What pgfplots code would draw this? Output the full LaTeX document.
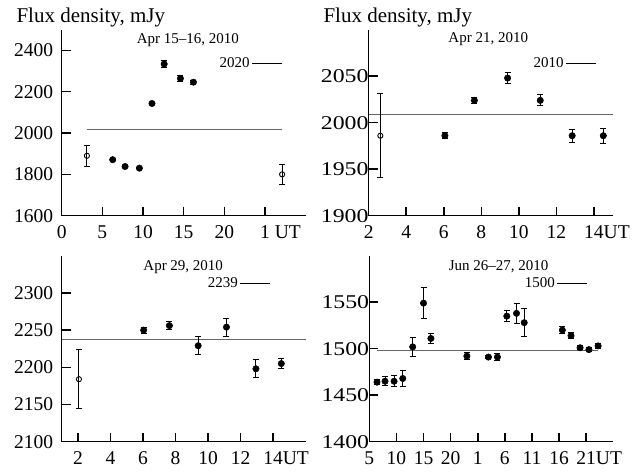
\documentclass[border=0pt]{standalone}
\usepackage{fontspec}
\setmainfont{Liberation Serif}
\usepackage{graphicx}
\usepackage{pgfplots}
\pgfplotsset{compat=1.18}

\pgfplotsset{
  panel/.style={
    scale only axis, width=244pt, height=186pt,
    axis lines=left, axis line style={-, line width=1.5pt, black},
    tick align=inside, major tick length=9pt,
    every tick/.style={black, line width=1.5pt},
    tick label style={font=\fontsize{19.5}{20}\selectfont},
    /pgf/number format/assume math mode=true,
    /pgf/number format/1000 sep={},
    xticklabel style={inner ysep=0pt, yshift=-10pt},
    clip=false,
    legend plot pos=right,
    legend style={draw=none, fill=none, font=\fontsize{15}{16}\selectfont,
      inner sep=0pt, anchor=east},
  },
  leftpanel/.style={yticklabel style={inner xsep=0pt, xshift=-8.5pt}},
  rightpanel/.style={yticklabel style={inner xsep=0pt, xshift=0pt},
    yticklabel={\scalebox{1.22}[1]{\pgfmathprintnumber{\tick}}}},
  filled/.style={only marks, mark=*, mark size=3.2pt, black, forget plot,
    mark options={fill=black, line width=0.5pt},
    error bars/.cd, y dir=both, y explicit,
    error bar style={line width=1pt, black},
    error mark=-,
    error mark options={rotate=90, mark size=3pt, line width=1pt, black}},
  open/.style={only marks, mark=o, mark size=2.6pt, black, forget plot,
    mark options={fill=white, line width=0.9pt},
    error bars/.cd, y dir=both, y explicit,
    error bar style={line width=1pt, black},
    error mark=-,
    error mark options={rotate=90, mark size=3pt, line width=1pt, black}},
  avg/.style={black!60, line width=1.4pt, no marks,
    legend image code/.code={\draw[black, line width=0.8pt] (0pt,0pt) -- (30pt,0pt);}},
}

\begin{document}
\begin{tikzpicture}
\useasboundingbox (0,0) rectangle (634pt,472pt);

% Panel 1: Apr 15-16
\begin{axis}[panel, leftpanel, at={(61.7pt,256.3pt)}, anchor=south west,
  xmin=0, xmax=30, ymin=1600, ymax=2500,
  xtick={0,5,10,15,20,25}, xticklabels={0,5,10,15,20,1\rlap{\ UT}},
  ytick={1600,1800,2000,2200,2400},
  legend style={at={(rel axis cs:0.905,0.82)}}]
\addplot[avg] coordinates {(3.1,2017) (27.1,2017)};
\addlegendentry{2020}
\addplot[open] table[x=x, y=y, y error=e] {
x y e
3.1 1890 50
27.1 1800 50
};
\addplot[filled] table[x=x, y=y, y error=e] {
x y e
6.27 1871 3
7.79 1838 3
9.55 1830 3
11.1 2143 3
12.6 2334 15
14.6 2264 13
16.2 2246 9
};
\node[font=\fontsize{15}{16}\selectfont] at (rel axis cs:0.517,0.946) {Apr 15--16, 2010};
\node[anchor=base west, font=\fontsize{21}{22}\selectfont, xshift=-48.7pt, yshift=6.7pt]
  at (rel axis cs:0,1) {Flux density, mJy};
\end{axis}

% Panel 2: Apr 21
\begin{axis}[panel, rightpanel, at={(368.7pt,256.3pt)}, anchor=south west,
  xmin=2, xmax=15, ymin=1900, ymax=2100,
  xtick={2,4,6,8,10,12,14}, xticklabels={2,4,6,8,10,12,14\rlap{UT}},
  ytick={1900,1950,2000,2050},
  legend style={at={(rel axis cs:0.934,0.82)}}]
\addplot[avg] coordinates {(2,2009) (15,2009)};
\addlegendentry{2010}
\addplot[open] table[x=x, y=y, y error=e] {
x y e
2.62 1986 45
};
\addplot[filled] table[x=x, y=y, y error=e] {
x y e
6.06 1986 3
7.63 2024 3
9.4 2048 6
11.14 2024 6
12.84 1986 7
14.5 1986 8
};
\node[font=\fontsize{15}{16}\selectfont] at (rel axis cs:0.49,0.95) {Apr 21, 2010};
\node[anchor=base west, font=\fontsize{21}{22}\selectfont, xshift=-48.7pt, yshift=6.7pt]
  at (rel axis cs:0,1) {Flux density, mJy};
\end{axis}

% Panel 3: Apr 29
\begin{axis}[panel, leftpanel, at={(61.7pt,30.3pt)}, anchor=south west,
  xmin=1, xmax=16, ymin=2100, ymax=2350,
  xtick={2,4,6,8,10,12,14}, xticklabels={2,4,6,8,10,12,14\rlap{UT}},
  ytick={2100,2150,2200,2250,2300},
  legend style={at={(rel axis cs:0.857,0.85)}}]
\addplot[avg] coordinates {(1,2237) (16,2237)};
\addlegendentry{2239}
\addplot[open] table[x=x, y=y, y error=e] {
x y e
2.06 2184 40
};
\addplot[filled] table[x=x, y=y, y error=e] {
x y e
6.04 2250 4
7.62 2256 5
9.39 2229 12
11.13 2254 12
12.94 2198 12
14.5 2205 7
};
\node[font=\fontsize{15}{16}\selectfont] at (rel axis cs:0.498,0.94) {Apr 29, 2010};
\end{axis}

% Panel 4: Jun 26-27
\begin{axis}[panel, rightpanel, at={(369.3pt,30.3pt)}, anchor=south west,
  xmin=5, xmax=50, ymin=1400, ymax=1600,
  xtick={5,10,15,20,25,30,35,40,45}, xticklabels={5,10,15,20,1,6,11,16,21\rlap{UT}},
  ytick={1400,1450,1500,1550},
  legend style={at={(rel axis cs:0.896,0.85)}}]
\addplot[avg] coordinates {(6.4,1498) (47.2,1498)};
\addlegendentry{1500}
\addplot[filled] table[x=x, y=y, y error=e] {
x y e
6.42 1464 3
7.9 1465 5
9.57 1465 6
11.17 1468 9
13.0 1502 10
15.0 1549 17
16.36 1511 5
23.0 1492 4
26.97 1491 2
28.63 1491 4
30.36 1535 6
32.15 1538 11
33.57 1528 15
40.6 1520 4
42.2 1514 3
43.87 1501 2
45.5 1499 2
47.2 1503 3
};
\node[font=\fontsize{15}{16}\selectfont] at (rel axis cs:0.53,0.943) {Jun 26--27, 2010};
\end{axis}
\end{tikzpicture}
\end{document}
